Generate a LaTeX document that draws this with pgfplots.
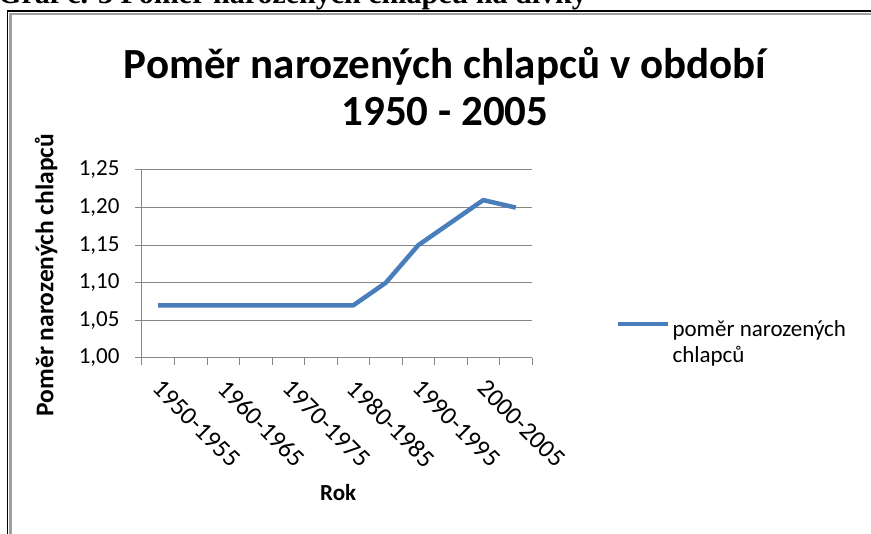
\documentclass[border=0pt]{standalone}
\usepackage{fontspec}
\setmainfont{Carlito}
\newfontfamily\serifbold{Liberation Serif}
\usepackage{pgfplots}
\pgfplotsset{compat=1.18}
\definecolor{linecol}{HTML}{4A7EBB}
\definecolor{gridcol}{HTML}{868686}
\begin{document}
\begin{tikzpicture}[x=1pt,y=1pt]
\path[use as bounding box, clip] (0,0) rectangle (871,-534);
% cropped caption at top
\node[anchor=base west, inner sep=0pt, font=\serifbold\bfseries\fontsize{30}{33}\selectfont] at (-2,-4) {Graf č. 3 Poměr narozených chlapců na dívky};
% page frame
\draw[black, line width=1.2pt] (7.5,-540) -- (7.5,-11) -- (875,-11);
\draw[gray!75, line width=2.6pt] (10.5,-540) -- (10.5,-14) -- (875,-14);
\begin{axis}[
  at={(142pt,-358pt)}, anchor=south west,
  scale only axis, width=390pt, height=188pt,
  xmin=-0.5, xmax=11.5, ymin=1, ymax=1.25,
  ytick={1,1.05,1.1,1.15,1.2,1.25},
  xtick={0,2,4,6,8,10},
  xticklabels={1950-1955,1960-1965,1970-1975,1980-1985,1990-1995,2000-2005},
  minor xtick={-0.5,0.5,...,11.5},
  major x tick style={draw=none},
  axis x line*=bottom, axis y line*=left,
  axis line style={-, draw=gridcol, line width=1pt},
  tick style={draw=gridcol, line width=1pt},
  tick align=outside,
  major tick length=7pt, minor tick length=7pt,
  ymajorgrids, grid style={draw=gridcol, line width=1pt},
  /pgf/number format/assume math mode=true,
  ticklabel style={font=\fontsize{23}{26}\selectfont, text=black},
  xticklabel style={font=\fontsize{25.5}{28}\selectfont, anchor=north west, inner sep=0pt, xshift=5pt, yshift=-13pt, rotate=-45},
  yticklabel style={xshift=-12pt, /pgf/number format/.cd, use comma, fixed, fixed zerofill, precision=2},
  xlabel={Rok}, ylabel={Poměr narozených chlapců},
  label style={font=\bfseries\fontsize{23}{26}\selectfont},
  xlabel style={at={(axis description cs:0.503,-0.718)}, anchor=center},
  ylabel style={font=\bfseries\fontsize{25.5}{28}\selectfont, at={(axis description cs:-0.246,0.441)}, anchor=center},
  legend style={at={(axis description cs:1.215,0.165)}, anchor=west, draw=none, fill=none,
    font=\fontsize{23}{28}\selectfont, inner sep=0pt, row sep=0pt,
    nodes={inner xsep=2pt}},
  legend cell align=left,
  legend image code/.code={\draw[#1] (0pt,0.3em) -- (50pt,0.3em);},
]
\addplot[linecol, line width=4.5pt, line join=round] coordinates {
 (0,1.07) (1,1.07) (2,1.07) (3,1.07) (4,1.07) (5,1.07) (6,1.07)
 (7,1.10) (8,1.15) (9,1.18) (10,1.21) (11,1.20)};
\addlegendentry{\begin{tabular}[t]{@{}l@{}}poměr narozených\\[-2pt]chlapců\end{tabular}}
\end{axis}
\node[anchor=base, font=\bfseries\fontsize{43}{48}\selectfont] at (445,-79) {Poměr narozených chlapců v období};
\node[anchor=base, font=\bfseries\fontsize{43}{48}\selectfont] at (445,-126) {1950 - 2005};
\end{tikzpicture}
\end{document}
